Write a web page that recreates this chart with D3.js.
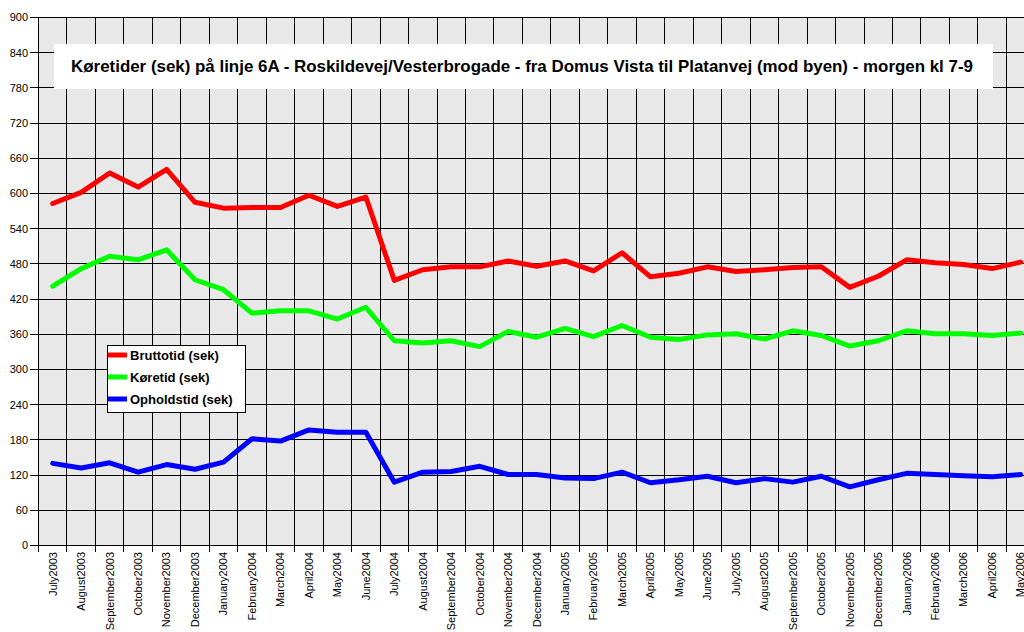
<!DOCTYPE html>
<html>
<head>
<meta charset="utf-8">
<script src="https://cdn.jsdelivr.net/npm/d3@7/dist/d3.min.js"></script>
<style>
  html, body { margin: 0; padding: 0; background: #fff; }
  svg { display: block; }
  text { font-family: "Liberation Sans", Arial, sans-serif; }
</style>
</head>
<body>
<svg id="chart" width="1024" height="632"></svg>
<script>
const months = ["July2003","August2003","September2003","October2003","November2003","December2003",
  "January2004","February2004","March2004","April2004","May2004","June2004","July2004","August2004",
  "September2004","October2004","November2004","December2004","January2005","February2005","March2005",
  "April2005","May2005","June2005","July2005","August2005","September2005","October2005","November2005",
  "December2005","January2006","February2006","March2006","April2006","May2006"];

const bruttotid = [583,602,635,611,641,585,575,576,576,597,578,594,452,470,475,475,485,476,485,468,499,458,464,475,467,470,474,475,440,459,487,482,479,472,483];
const koretid   = [442,472,493,487,504,453,436,396,400,400,386,406,349,345,349,339,365,355,370,356,375,355,351,359,361,352,366,358,340,349,366,361,361,358,362];
const opholdstid= [140,132,141,125,138,130,142,182,178,197,193,193,108,125,126,135,121,121,115,114,125,107,112,118,107,114,108,118,100,112,123,121,119,117,121];

const yTicks = [0,60,120,180,240,300,360,420,480,540,600,660,720,780,840,900];
const seriesNames = ["Bruttotid (sek)", "Køretid (sek)", "Opholdstid  (sek)"];
const seriesColors = ["#ff0000", "#00ff00", "#0000ff"];
const title = "Køretider (sek) på linje 6A - Roskildevej/Vesterbrogade - fra Domus Vista til Platanvej (mod byen) - morgen kl 7-9";

const series = [bruttotid, koretid, opholdstid];

const svg = d3.select("#chart");
const pLeft = 38.5, pRight = 1034.8, pTop = 17.5, pBottom = 545.5;

const x = d3.scaleBand().domain(months).range([pLeft, pRight]).padding(0);
const y = d3.scaleLinear().domain([0, 900]).range([pBottom, pTop]);

// plot background
svg.append("rect").attr("x", pLeft).attr("y", pTop)
  .attr("width", 1024 - pLeft).attr("height", pBottom - pTop)
  .attr("fill", "#e8e8e8");

const snap = v => Math.round(v - 0.5) + 0.5;

// horizontal grid + ticks
const g = svg.append("g").attr("shape-rendering", "crispEdges");
g.selectAll("line.h").data(yTicks).enter().append("line")
  .attr("x1", 30).attr("x2", 1024)
  .attr("y1", d => snap(y(d))).attr("y2", d => snap(y(d)))
  .attr("stroke", "#000").attr("stroke-width", 1);

// vertical grid (band boundaries) + ticks below axis
const bounds = months.map(m => x(m));
g.selectAll("line.v").data(bounds).enter().append("line")
  .attr("x1", d => snap(d)).attr("x2", d => snap(d))
  .attr("y1", pTop).attr("y2", pBottom + 6)
  .attr("stroke", "#000").attr("stroke-width", 1);

// y labels
svg.append("g").selectAll("text").data(yTicks).enter().append("text")
  .attr("x", 28).attr("y", d => y(d)).attr("dy", "0.35em")
  .attr("text-anchor", "end").attr("font-size", 11).attr("fill", "#000")
  .text(d => d);

// x labels
svg.append("g").selectAll("text").data(months).enter().append("text")
  .attr("transform", d => `translate(${x(d) + x.bandwidth() / 2},552) rotate(-90)`)
  .attr("dy", "0.35em").attr("text-anchor", "end")
  .attr("font-size", 11).attr("fill", "#000")
  .text(d => d);

// lines
const line = d3.line()
  .x((d, i) => x(months[i]) + x.bandwidth() / 2)
  .y(d => y(d));
svg.append("g").selectAll("path").data(series).enter().append("path")
  .attr("d", d => line(d))
  .attr("fill", "none")
  .attr("stroke", (d, i) => seriesColors[i])
  .attr("stroke-width", 5)
  .attr("stroke-linejoin", "round")
  .attr("stroke-linecap", "round");

// title box
svg.append("rect").attr("x", 54).attr("y", 44).attr("width", 939).attr("height", 45)
  .attr("fill", "#fff");
const tt = svg.append("text").attr("x", 522).attr("y", 72)
  .attr("text-anchor", "middle").attr("font-weight", "bold")
  .attr("font-size", 15).attr("fill", "#000").text(title);
const w = tt.node().getComputedTextLength();
tt.attr("font-size", Math.min(17, 15 * 903 / w));

// legend
const lg = svg.append("g");
lg.append("rect").attr("x", 107.5).attr("y", 345.5).attr("width", 138).attr("height", 67)
  .attr("fill", "#fff").attr("stroke", "#000").attr("stroke-width", 1)
  .attr("shape-rendering", "crispEdges");
const ly = [355, 377, 399];
seriesNames.forEach((n, i) => {
  lg.append("line").attr("x1", 108).attr("x2", 127).attr("y1", ly[i]).attr("y2", ly[i])
    .attr("stroke", seriesColors[i]).attr("stroke-width", 5);
  lg.append("text").attr("x", 130).attr("y", ly[i]).attr("dy", "0.35em")
    .attr("font-size", 13).attr("font-weight", "bold").attr("fill", "#000")
    .text(n);
});
</script>
</body>
</html>
